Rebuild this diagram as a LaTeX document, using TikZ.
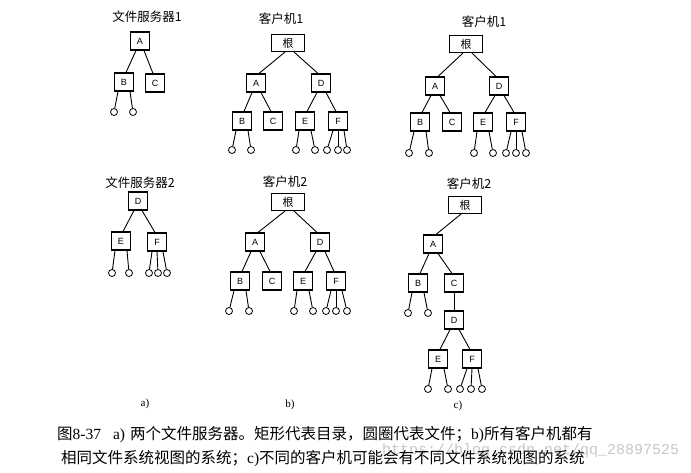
\documentclass[tikz,border=0pt]{standalone}
\usepackage{fontspec}
\setmainfont{Liberation Serif}
\newfontfamily\cjk{Noto Sans CJK SC}
\newfontfamily\lat{Liberation Sans}
\newfontfamily\wmono{Liberation Mono}
\usetikzlibrary{calc}
\newcommand\leafto[5]{\node[leaf] (#3) at (#4,#5) {}; \draw[link] ([xshift=#2pt]#1.south) -- (#3);}
\newcommand\boxlink[4]{\draw[link] ([xshift=#2pt]#1.south) -- ([xshift=#4pt]#3.north);}
\begin{document}
\begin{tikzpicture}[x=1pt,y=-1pt,
  dirbox/.style={draw, line width=1.1pt, minimum width=19pt, minimum height=18pt, inner sep=0pt, font=\lat\fontsize{9}{9}\selectfont},
  rootbox/.style={dirbox, minimum width=33pt, minimum height=17pt, font=\cjk\fontsize{11}{11}\selectfont},
  leaf/.style={draw, circle, line width=0.8pt, minimum size=7pt, inner sep=0pt},
  link/.style={line width=0.9pt},
  title/.style={font=\cjk\fontsize{12.5}{12.5}\selectfont, inner sep=0pt},
  sublabel/.style={font=\rmfamily\fontsize{11}{11}\selectfont, inner sep=0pt},
  caption/.style={font=\cjk\fontsize{15.5}{15.5}\selectfont, inner sep=0pt, anchor=west},
]
\useasboundingbox (0,0) rectangle (691,473);

% ---------- panel a, top ----------
\node[title] (ta1) at (147,17) {文件服务器1};
\node[dirbox] (aA) at (140,41) {A};
\node[dirbox] (aB) at (124,82) {B};
\node[dirbox] (aC) at (155,83) {C};
\boxlink{aA}{-4}{aB}{2}
\boxlink{aA}{4}{aC}{-2}
\leafto{aB}{-6}{aB1}{114}{112}
\leafto{aB}{6}{aB2}{133}{112}

% ---------- panel a, bottom ----------
\node[title] (ta2) at (140,183) {文件服务器2};
\node[dirbox] (aD) at (138,201) {D};
\node[dirbox] (aE) at (121,241) {E};
\node[dirbox] (aF) at (157,242) {F};
\boxlink{aD}{-4}{aE}{2}
\boxlink{aD}{4}{aF}{-2}
\leafto{aE}{-6}{aE1}{112}{273}
\leafto{aE}{6}{aE2}{129}{273}
\leafto{aF}{-5}{aF1}{149}{273}
\leafto{aF}{0}{aF2}{158}{273}
\leafto{aF}{6}{aF3}{167}{273}

% ---------- panel b, top ----------
\node[title] (tb1) at (281,19) {客户机1};
\node[rootbox] (bR) at (288,43) {根};
\node[dirbox] (bA) at (256,83) {A};
\node[dirbox] (bD) at (321,83) {D};
\node[dirbox] (bB) at (242,121) {B};
\node[dirbox] (bC) at (273,121) {C};
\node[dirbox] (bE) at (305,121) {E};
\node[dirbox] (bF) at (338,121) {F};
\boxlink{bR}{-3}{bA}{3}
\boxlink{bR}{6}{bD}{-3}
\boxlink{bA}{-4}{bB}{2}
\boxlink{bA}{5}{bC}{-2}
\boxlink{bD}{-4}{bE}{2}
\boxlink{bD}{5}{bF}{-2}
\leafto{bB}{-6}{bB1}{232}{150}
\leafto{bB}{6}{bB2}{251}{150}
\leafto{bE}{-6}{bE1}{296}{150}
\leafto{bE}{6}{bE2}{315}{150}
\leafto{bF}{-5}{bF1}{327}{150}
\leafto{bF}{0}{bF2}{338}{150}
\leafto{bF}{6}{bF3}{347}{150}

% ---------- panel b, bottom ----------
\node[title] (tb2) at (285,182) {客户机2};
\node[rootbox] (cR) at (288,202) {根};
\node[dirbox] (cA) at (255,242) {A};
\node[dirbox] (cD) at (320,242) {D};
\node[dirbox] (cB) at (240,281) {B};
\node[dirbox] (cC) at (272,281) {C};
\node[dirbox] (cE) at (303,281) {E};
\node[dirbox] (cF) at (336,281) {F};
\boxlink{cR}{-3}{cA}{3}
\boxlink{cR}{6}{cD}{-3}
\boxlink{cA}{-4}{cB}{2}
\boxlink{cA}{5}{cC}{-2}
\boxlink{cD}{-4}{cE}{2}
\boxlink{cD}{5}{cF}{-2}
\leafto{cB}{-6}{cB1}{229}{311}
\leafto{cB}{6}{cB2}{249}{311}
\leafto{cE}{-6}{cE1}{294}{311}
\leafto{cE}{6}{cE2}{313}{311}
\leafto{cF}{-5}{cF1}{326}{311}
\leafto{cF}{0}{cF2}{336}{311}
\leafto{cF}{6}{cF3}{347}{311}

% ---------- panel c, top ----------
\node[title] (tc1) at (484,22) {客户机1};
\node[rootbox] (dR) at (466,44) {根};
\node[dirbox] (dA) at (435,86) {A};
\node[dirbox] (dD) at (499,86) {D};
\node[dirbox] (dB) at (420,122) {B};
\node[dirbox] (dC) at (452,122) {C};
\node[dirbox] (dE) at (483,122) {E};
\node[dirbox] (dF) at (516,122) {F};
\boxlink{dR}{-3}{dA}{3}
\boxlink{dR}{6}{dD}{-3}
\boxlink{dA}{-4}{dB}{2}
\boxlink{dA}{5}{dC}{-2}
\boxlink{dD}{-4}{dE}{2}
\boxlink{dD}{5}{dF}{-2}
\leafto{dB}{-6}{dB1}{409}{153}
\leafto{dB}{6}{dB2}{429}{153}
\leafto{dE}{-6}{dE1}{474}{153}
\leafto{dE}{6}{dE2}{493}{153}
\leafto{dF}{-5}{dF1}{506}{153}
\leafto{dF}{0}{dF2}{516}{153}
\leafto{dF}{6}{dF3}{526}{153}

% ---------- panel c, bottom ----------
\node[title] (tc2) at (469,184) {客户机2};
\node[rootbox] (eR) at (465,205) {根};
\node[dirbox] (eA) at (433,244) {A};
\node[dirbox] (eB) at (418,283) {B};
\node[dirbox] (eC) at (454,283) {C};
\node[dirbox] (eD) at (454,320) {D};
\node[dirbox] (eE) at (438,359) {E};
\node[dirbox] (eF) at (472,359) {F};
\boxlink{eR}{-4}{eA}{3}
\boxlink{eA}{-4}{eB}{2}
\boxlink{eA}{5}{eC}{-2}
\draw[link] (eC) -- (eD);
\boxlink{eD}{-4}{eE}{2}
\boxlink{eD}{5}{eF}{-2}
\leafto{eB}{-6}{eB1}{408}{313}
\leafto{eB}{6}{eB2}{428}{313}
\leafto{eE}{-6}{eE1}{428}{389}
\leafto{eE}{6}{eE2}{448}{389}
\leafto{eF}{-5}{eF1}{460}{389}
\leafto{eF}{0}{eF2}{471}{389}
\leafto{eF}{6}{eF3}{482}{389}

% ---------- sub labels ----------
\node[sublabel] (la) at (145,404) {a)};
\node[sublabel] (lb) at (290,405) {b)};
\node[sublabel] (lc) at (458,406) {c)};

% ---------- caption ----------
\node[font=\wmono\fontsize{15}{15}\selectfont, text=black!22, inner sep=0pt, anchor=west] (wm) at (382,451) {https://blog.csdn.net/qq\_28897525};
\node[caption] (cap1) at (57,435) {图{\rmfamily 8-37}\hspace{12pt}{\rmfamily a)}\hspace{5pt}两个文件服务器。矩形代表目录，圆圈代表文件；{\rmfamily b)}所有客户机都有};
\node[caption] (cap2) at (61,459) {相同文件系统视图的系统；{\rmfamily c)}不同的客户机可能会有不同文件系统视图的系统};
\end{tikzpicture}
\end{document}
